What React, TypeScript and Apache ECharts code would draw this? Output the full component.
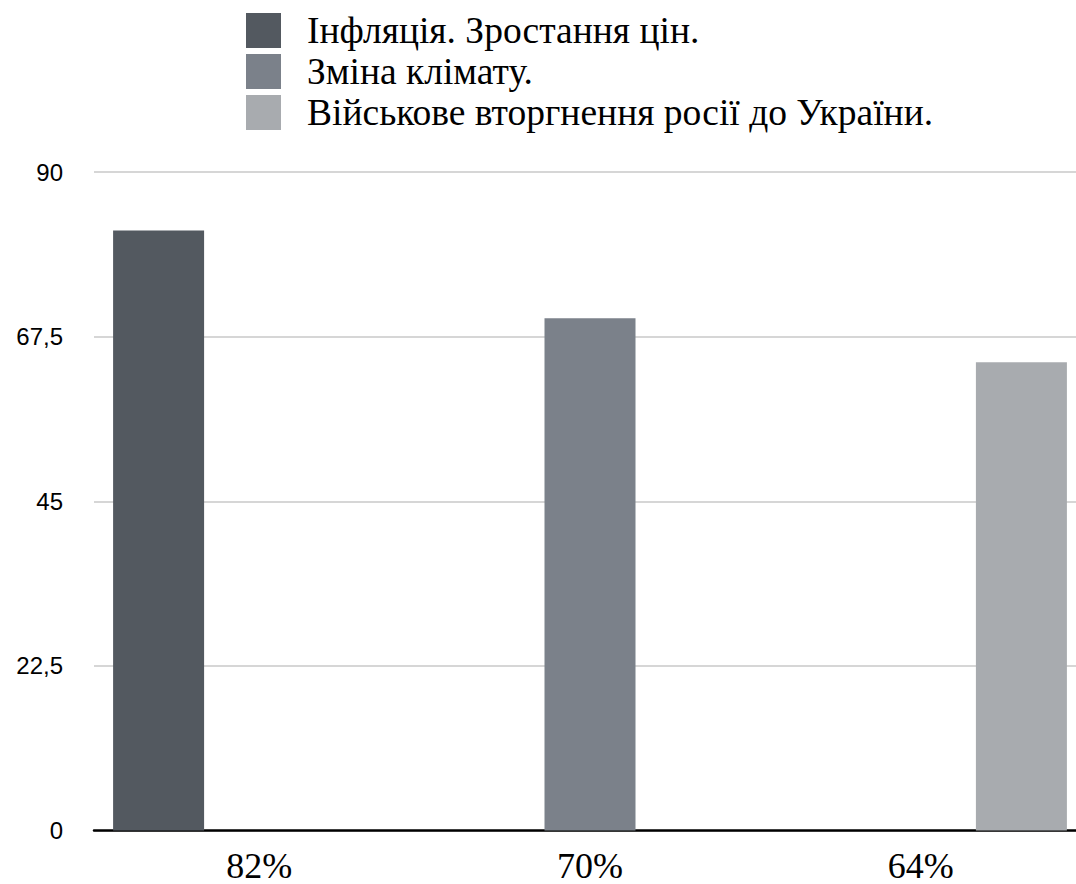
import React, { useEffect, useRef } from "react";
import * as echarts from "echarts";

const categories = ["82%", "70%", "64%"];
const seriesNames = [
  "Інфляція. Зростання цін.",
  "Зміна клімату.",
  "Військове вторгнення росії до України.",
];
const inflationValues = [82, null, null];
const climateValues = [null, 70, null];
const invasionValues = [null, null, 64];
const seriesColors = ["#535960", "#7b818a", "#a8abaf"];
const yTicks = { min: 0, max: 90, interval: 22.5 };

const SERIF = "Liberation Serif";
const SANS = "Liberation Sans";

export default function App() {
  const ref = useRef<HTMLDivElement>(null);
  useEffect(() => {
    if (!ref.current) return;
    const chart = echarts.init(ref.current, null, { renderer: "svg" });
    const seriesData = [inflationValues, climateValues, invasionValues];
    chart.setOption({
      animation: false,
      backgroundColor: "#ffffff",
      legend: {
        orient: "vertical",
        left: 246,
        top: 11.5,
        padding: 0,
        itemWidth: 35,
        itemHeight: 35,
        itemGap: 3,
        icon: "rect",
        data: seriesNames,
        textStyle: {
          fontFamily: SERIF,
          fontSize: 37.5,
          lineHeight: 35,
          color: "#000",
          padding: [0, 0, 0, 21],
        },
      },
      grid: {
        left: 94,
        top: 172,
        width: 992,
        height: 658.5,
        containLabel: false,
        outerBoundsMode: "none",
      },
      xAxis: {
        type: "category",
        data: categories,
        axisLine: { show: true, lineStyle: { color: "#000", width: 2.5 } },
        axisTick: { show: false },
        axisLabel: {
          fontFamily: SERIF,
          fontSize: 36,
          lineHeight: 28,
          color: "#000",
          margin: 21,
        },
      },
      yAxis: {
        type: "value",
        min: yTicks.min,
        max: yTicks.max,
        interval: yTicks.interval,
        axisLine: { show: false },
        axisTick: { show: false },
        axisLabel: {
          fontFamily: SANS,
          fontSize: 24,
          color: "#000",
          margin: 31,
          formatter: (v: number) => String(v).replace(".", ","),
        },
        splitLine: { lineStyle: { color: "#c8c8c8", width: 1.5 } },
      },
      series: seriesNames.map((name, i) => ({
        name,
        type: "bar",
        data: seriesData[i],
        barWidth: 91,
        barGap: "10.7%",
        itemStyle: { color: seriesColors[i] },
      })),
    });
    return () => chart.dispose();
  }, []);
  return (
    <div
      ref={ref}
      style={{ position: "absolute", left: 0, top: 0, width: 1076, height: 884 }}
    />
  );
}
